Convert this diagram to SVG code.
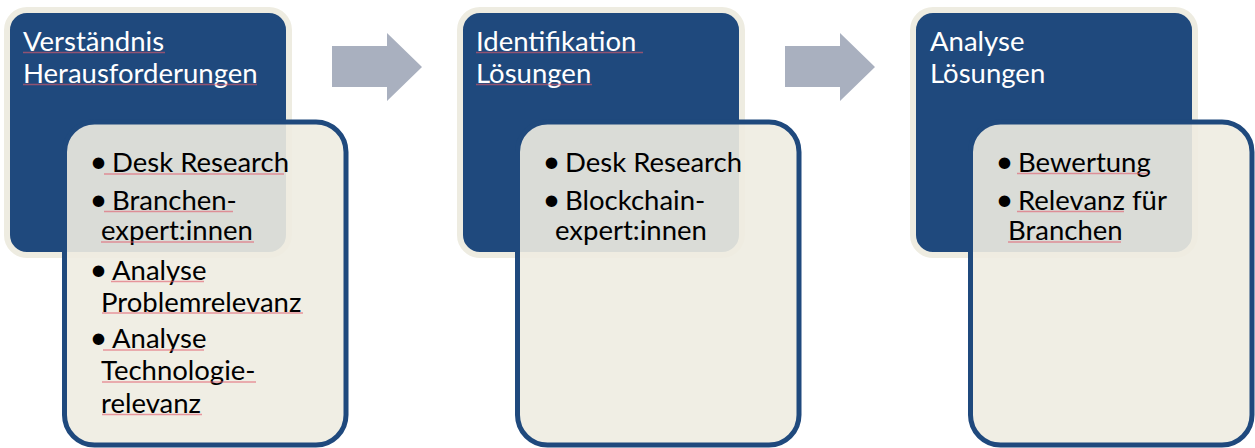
<svg xmlns="http://www.w3.org/2000/svg" width="1255" height="448" viewBox="0 0 1255 448">
<style>
.head{fill:#1f497d;stroke:#eeece1;stroke-width:6}
.body{fill:#eeece1;fill-opacity:0.9;stroke:#1f497d;stroke-width:5}
.arrow{fill:#a9b0bf}
.t{font-family:Lato,"Open Sans",sans-serif;font-size:27.5px}
.b{font-size:31px}
.w{fill:#ffffff}
.k{fill:#000000}
.sq{stroke:#e05a6a;stroke-opacity:0.6;stroke-width:1.3;fill:none}
</style>
<rect width="1255" height="448" fill="#ffffff"/>
<g id="connectors">
<polygon class="arrow" points="332,46 387,46 387,33 422,67 387,101 387,87 332,87"/>
<polygon class="arrow" points="785,46 840,46 840,33 875,67 840,101 840,87 785,87"/>
</g>
<g id="step1">
<rect class="head" x="7" y="10" width="282" height="245" rx="20"/>
<text class="t w" x="23" y="51">Verständnis</text>
<text class="t w" x="23" y="83">Herausforderungen</text>
<rect class="body" x="64.5" y="122" width="281.5" height="323" rx="30"/>
<text class="t k" y="172"><tspan class="b" x="89.5">•</tspan><tspan x="112">Desk Research</tspan></text>
<text class="t k" y="210"><tspan class="b" x="89.5">•</tspan><tspan x="112">Branchen-</tspan></text>
<text class="t k" x="101" y="240">expert:innen</text>
<text class="t k" y="280"><tspan class="b" x="89.5">•</tspan><tspan x="112">Analyse</tspan></text>
<text class="t k" x="101" y="312">Problemrelevanz</text>
<text class="t k" y="348"><tspan class="b" x="89.5">•</tspan><tspan x="112">Analyse</tspan></text>
<text class="t k" x="101" y="380">Technologie-</text>
<text class="t k" x="101" y="413">relevanz</text>
<path class="sq" d="M23 52.5H165M23 84.5H257M104 174H284M104 211.5H233M101 242H254M111 281.5H204M102 313H303M103 350H204M102 382H256M102 414.5H202"/>
</g>
<g id="step2">
<rect class="head" x="460" y="10" width="282" height="245" rx="20"/>
<text class="t w" x="476" y="51">Identifikation</text>
<text class="t w" x="476" y="83">Lösungen</text>
<rect class="body" x="517.5" y="122" width="281.5" height="323" rx="30"/>
<text class="t k" y="172"><tspan class="b" x="542.5">•</tspan><tspan x="565">Desk Research</tspan></text>
<text class="t k" y="210"><tspan class="b" x="542.5">•</tspan><tspan x="565">Blockchain-</tspan></text>
<text class="t k" x="555" y="240">expert:innen</text>
<path class="sq" d="M476 52.5H643M476 84.5H592"/>
</g>
<g id="step3">
<rect class="head" x="913" y="10" width="282" height="245" rx="20"/>
<text class="t w" x="930" y="51">Analyse</text>
<text class="t w" x="930" y="83">Lösungen</text>
<rect class="body" x="970.5" y="122" width="281.5" height="323" rx="30"/>
<text class="t k" y="172"><tspan class="b" x="995.5">•</tspan><tspan x="1018">Bewertung</tspan></text>
<text class="t k" y="210"><tspan class="b" x="995.5">•</tspan><tspan x="1018">Relevanz für</tspan></text>
<text class="t k" x="1008" y="240">Branchen</text>
<path class="sq" d="M1017 173.5H1148M1017 211.5H1124M1008 242H1121"/>
</g>
</svg>
